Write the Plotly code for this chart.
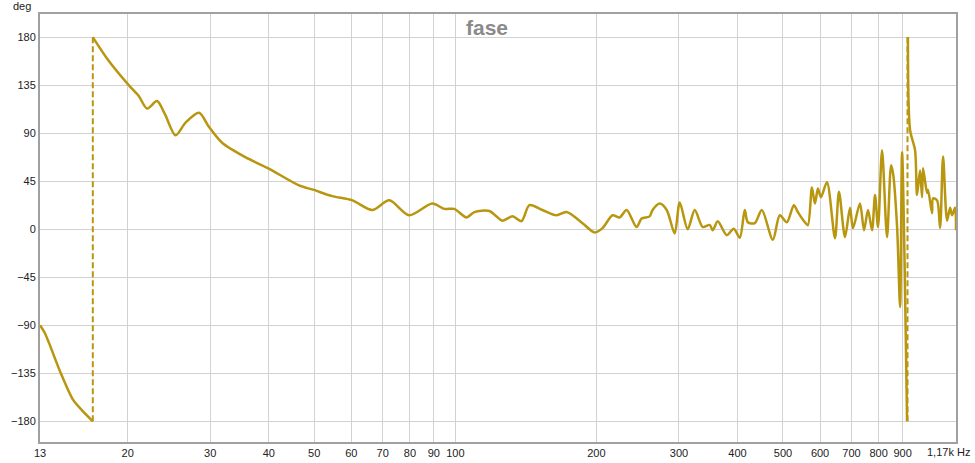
import plotly.graph_objects as go
import numpy as np

# Segment before the first phase wrap
freq_a = [13.0, 13.3, 13.6, 14.4, 15.3, 16.0, 16.85]
phase_a = [-90, -97, -107, -135, -160, -170, -180]

# Main segment between the two wraps
freq_b = [16.85, 18.2, 20.1, 21.1, 22.0, 23.1, 24.0, 25.3, 26.6, 28.4, 29.8, 31.8, 35.8, 39.9,
          46.4, 49.7, 54.6, 60.3, 66.5, 72.3, 79.7, 89.3, 94.7, 99.5, 105.6, 109.8, 118.2,
          126.0, 132.4, 138.4, 143.9, 153.4, 164.4, 172.7, 186.8, 198.2, 206.1, 216.5, 224.1,
          232.0, 243.6, 249.7, 259.7, 263.6, 272.9, 282.5, 293.8, 301.1, 313.2, 324.2, 337.1,
          348.9, 354.1, 363.0, 379.4, 392.7, 404.5, 414.5, 420.7, 435.5, 450.7, 475.8, 492.4,
          509.7, 527.5, 538.1, 556.9, 565.2, 576.5, 585.1, 593.8, 602.6, 620.7, 645.6, 658.5,
          678.2, 695.1, 705.4, 730.0, 744.6, 759.3, 774.5, 786.0, 797.7, 813.6, 833.8, 850.5,
          858.9, 876.0, 889.0, 897.7, 920.0]
phase_b = [180, 158, 135, 125, 113, 120, 108, 88, 100, 109, 96, 81, 67, 57,
           41, 37, 31, 27, 18, 27, 13, 24, 19, 19, 11, 16, 17,
           8, 12, 7.5, 22.5, 18, 13, 16, 5.6, -3, 1, 13, 11,
           18, 2, 10, 12, 18, 24, 18, -4, 25, 0, 18, 2,
           4, -1, 7.5, -5.6, 0.5, -8, 18, 6.5, 5.6, 18, -10, 13,
           6.5, 22.5, 16, 6.5, 3.7, 39, 24, 38, 30, 44, -8.4, 35,
           -7.5, 20, 1, 24, -1, 18, -1, 32, 2, 74, -7.5, 60,
           52, 2, -73, 72, -180]

# Segment after the second wrap
freq_c = [924.0, 933.6, 956.8, 966.1, 980.5, 990.2, 995.1, 1014.8, 1019.8, 1040.1, 1045.2,
          1066.1, 1082.0, 1098.0, 1119.8, 1136.6, 1147.7, 1164.8, 1170.0]
phase_c = [180, 93, 74, 32, 55, 30, 57, 34, 37, 15, 29,
           27, 1, 68, 8, 20, 13, 20, -1]

wrap_freqs = [16.85, 922.0]

x_ticks = [13, 20, 30, 40, 50, 60, 70, 80, 90, 100, 200, 300, 400, 500, 600, 700, 800, 900, 1170]
x_labels = ["13", "20", "30", "40", "50", "60", "70", "80", "90", "100", "200", "300", "400",
            "500", "600", "700", "800", "900", ""]
y_ticks = [-180, -135, -90, -45, 0, 45, 90, 135, 180]

color = "#B8960F"

fig = go.Figure()
for wf in wrap_freqs:
    fig.add_trace(go.Scatter(x=[wf, wf], y=[-180, 180], mode="lines",
                             line=dict(color=color, width=2, dash="6px,3px"),
                             showlegend=False, hoverinfo="skip"))
for fx, py in [(freq_a, phase_a), (freq_b, phase_b), (freq_c, phase_c)]:
    fig.add_trace(go.Scatter(x=fx, y=py, mode="lines",
                             line=dict(color=color, width=2.5, shape="spline", smoothing=0.8),
                             showlegend=False))

fig.update_layout(
    width=975, height=463,
    margin=dict(l=40, r=19, t=14, b=21, autoexpand=False),
    paper_bgcolor="white", plot_bgcolor="white",
    font=dict(family="Liberation Sans, Arial, sans-serif", size=11, color="#222"),
    xaxis=dict(type="log", range=[np.log10(13), np.log10(1170)],
               tickvals=x_ticks, ticktext=x_labels, ticks="", automargin=False,
               showgrid=True, gridcolor="#d2d2d2", gridwidth=1,
               showline=True, linecolor="#a0a0a0", linewidth=2, mirror=True,
               zeroline=False, tickfont=dict(size=11, color="#222")),
    yaxis=dict(range=[-199.4, 201.6], tickvals=y_ticks, ticks="", automargin=False,
               showgrid=True, gridcolor="#d2d2d2", gridwidth=1,
               showline=True, linecolor="#a0a0a0", linewidth=2, mirror=True,
               zeroline=False, tickfont=dict(size=11, color="#222")),
    annotations=[
        dict(text="<b>fase</b>", xref="paper", yref="paper", x=0.488, y=0.9696,
             showarrow=False, font=dict(size=21, color="#8a8a8a", family="Liberation Sans, Arial"),
             xanchor="center", yanchor="middle"),
        dict(text="deg", xref="paper", yref="paper", x=-0.0197, y=1.0187,
             showarrow=False, font=dict(size=11, color="#222"),
             xanchor="center", yanchor="middle"),
        dict(text="1,17k Hz", xref="paper", yref="paper", x=1.0175, y=-0.0234,
             showarrow=False, font=dict(size=11, color="#222"),
             xanchor="right", yanchor="middle"),
    ],
)
fig.write_html("out.html", config={"displayModeBar": False},
               post_script="document.body.style.margin='0px';document.body.style.padding='0px';")
